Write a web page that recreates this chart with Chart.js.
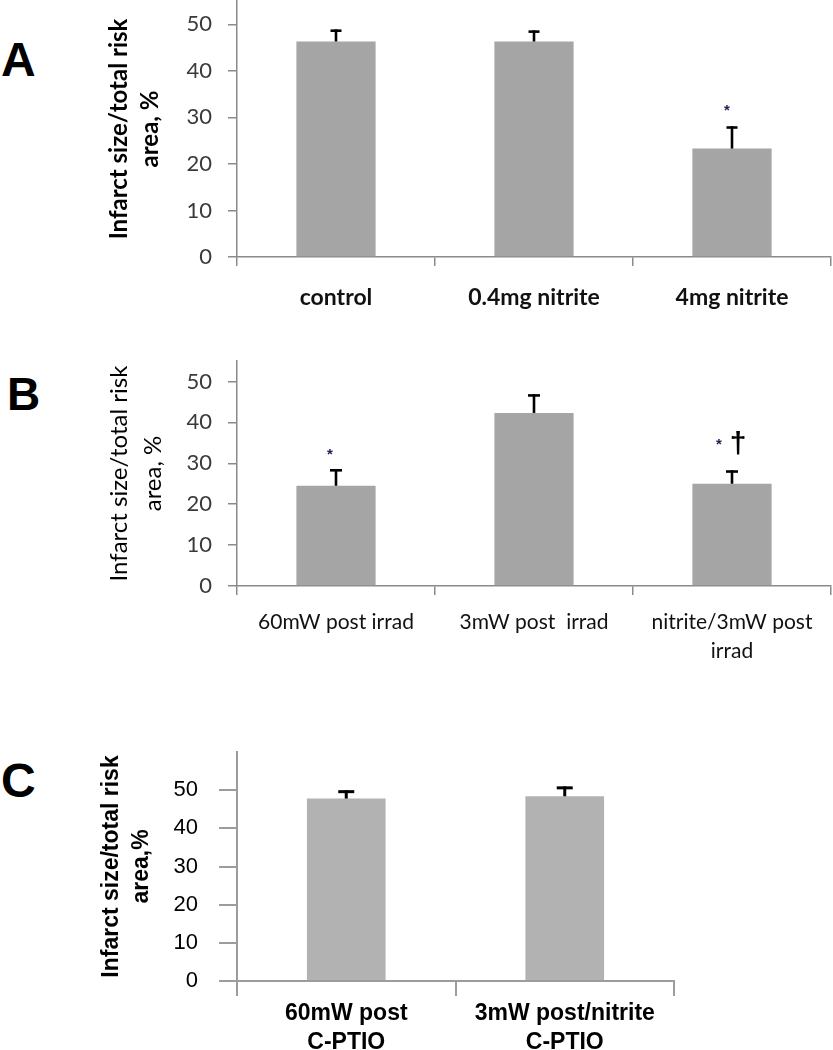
<!DOCTYPE html>
<html>
<head>
<meta charset="utf-8">
<script src="https://cdn.jsdelivr.net/npm/chart.js@4"></script>
<style>
  html, body { margin:0; padding:0; background:#fff; }
  body { width:833px; height:1050px; position:relative; overflow:hidden; }
  canvas { position:absolute; left:0; }
  .lbl { position:absolute; font-family:"Liberation Sans", Arial, sans-serif; font-weight:bold; color:#000; }
</style>
</head>
<body>
<div class="lbl" style="left:1px; top:36px; font-size:48px; line-height:48px;">A</div>
<div class="lbl" style="left:7px; top:371px; font-size:46px; line-height:46px;">B</div>
<div class="lbl" style="left:1px; top:757px; font-size:48px; line-height:48px;">C</div>
<canvas id="cA" width="833" height="320" style="top:0px"></canvas>
<canvas id="cB" width="833" height="340" style="top:330px"></canvas>
<canvas id="cC" width="833" height="360" style="top:690px"></canvas>
<script>
// ---- data ----
const yTickValues = [0, 10, 20, 30, 40, 50];
const yTitle = ['Infarct size/total risk', 'area, %'];
const yTitleC = ['Infarct size/total risk', 'area,%'];

const catA = ['control', '0.4mg nitrite', '4mg nitrite'];
const valA = [46.3, 46.3, 23.3];
const errA = [2.6, 2.4, 4.8];

const catB = ['60mW post irrad', '3mW post  irrad', ['nitrite/3mW post', 'irrad']];
const valB = [24.5, 42.3, 25.0];
const errB = [4.1, 4.6, 3.3];

const catC = [['60mW post', 'C-PTIO'], ['3mW post/nitrite', 'C-PTIO']];
const valC = [47.8, 48.4];
const errC = [2.2, 2.6];

// ---- plugins ----
const errorBars = {
  id: 'errorBars',
  afterDatasetsDraw(chart, args, opts) {
    const ctx = chart.ctx;
    const meta = chart.getDatasetMeta(0);
    const ys = chart.scales.y;
    const ds = chart.data.datasets[0];
    ctx.save();
    ctx.strokeStyle = opts.color;
    ctx.lineWidth = opts.width;
    meta.data.forEach((bar, i) => {
      const v = ds.data[i], e = ds.errors[i];
      const yTop = ys.getPixelForValue(v + e);
      const yBar = ys.getPixelForValue(v);
      ctx.beginPath();
      ctx.moveTo(bar.x, yBar);
      ctx.lineTo(bar.x, yTop);
      ctx.stroke();
      ctx.beginPath();
      ctx.moveTo(bar.x - opts.cap / 2, yTop + opts.width / 2);
      ctx.lineTo(bar.x + opts.cap / 2, yTop + opts.width / 2);
      ctx.stroke();
    });
    (opts.marks || []).forEach(m => {
      const bar = meta.data[m.i];
      const yTop = ys.getPixelForValue(ds.data[m.i] + ds.errors[m.i]);
      ctx.font = m.font;
      ctx.fillStyle = m.color;
      ctx.textAlign = 'center';
      ctx.textBaseline = 'middle';
      ctx.fillText(m.text, bar.x + m.dx, yTop - m.dy);
    });
    ctx.restore();
  }
};

function makeChart(id, cfg) {
  return new Chart(document.getElementById(id), {
    type: 'bar',
    data: {
      labels: cfg.labels,
      datasets: [{
        data: cfg.values,
        errors: cfg.errors,
        backgroundColor: cfg.barColor,
        borderWidth: 0,
        barPercentage: cfg.barPct,
        categoryPercentage: 1
      }]
    },
    plugins: [errorBars],
    options: {
      responsive: false,
      animation: false,
      devicePixelRatio: 1,
      layout: { padding: { top: cfg.padTop, right: cfg.padRight, left: 0, bottom: 0 } },
      plugins: {
        legend: { display: false },
        tooltip: { enabled: false },
        errorBars: { color: '#000', width: cfg.errWidth, cap: cfg.cap, marks: cfg.marks }
      },
      scales: {
        x: {
          type: 'category',
          offset: true,
          grid: { offset: true, drawOnChartArea: false, drawTicks: true, tickLength: cfg.xTickLen, color: cfg.lineColor, lineWidth: cfg.lineWidth },
          border: { display: true, color: cfg.lineColor, width: cfg.lineWidth },
          ticks: { font: cfg.xFont, color: cfg.xColor, padding: cfg.xPad, maxRotation: 0, autoSkip: false },
          afterFit(s) { s.height = cfg.xHeight; s.paddingLeft = 0; s.paddingRight = 0; }
        },
        y: {
          min: 0, max: cfg.yMax,
          grid: { drawOnChartArea: false, drawTicks: true, tickLength: cfg.yTickLen, color: cfg.lineColor, lineWidth: cfg.lineWidth },
          border: { display: true, color: cfg.lineColor, width: cfg.lineWidth },
          ticks: { font: cfg.yFont, color: cfg.yColor, padding: cfg.yPad },
          afterBuildTicks(s) { s.ticks = yTickValues.map(v => ({ value: v })); },
          title: { display: true, text: cfg.title, font: cfg.titleFont, color: '#000', padding: { top: cfg.titlePad, bottom: 0 } },
          afterFit(s) { s.width = 237; s.paddingTop = 0; s.paddingBottom = 0; }
        }
      }
    }
  });
}

makeChart('cA', {
  labels: catA, values: valA, errors: errA,
  barColor: '#a5a5a5', barPct: 0.4,
  padTop: 1, padRight: 2, xHeight: 63,
  xTickLen: 9, yTickLen: 9, lineColor: '#8a8a8a', lineWidth: 1.5,
  xFont: { family: 'Lato', size: 23, weight: 'bold', lineHeight: 1.2 }, xColor: '#111', xPad: 18,
  yFont: { family: 'Lato', size: 22, weight: 'normal' }, yColor: '#3a3a3a', yPad: 16,
  yMax: 55, title: yTitle,
  titleFont: { family: 'Lato', size: 24, weight: 'bold', lineHeight: '31px' }, titlePad: 104,
  errWidth: 2.6, cap: 11,
  marks: [{ i: 2, text: '*', dx: -5, dy: 15, font: 'bold 15px "Liberation Sans"', color: '#1c1c5a' }]
});

makeChart('cB', {
  labels: catB, values: valB, errors: errB,
  barColor: '#a5a5a5', barPct: 0.4,
  padTop: 31, padRight: 2, xHeight: 84,
  xTickLen: 9, yTickLen: 9, lineColor: '#8a8a8a', lineWidth: 1.5,
  xFont: { family: 'Lato', size: 21, weight: 'normal', lineHeight: '29px' }, xColor: '#111', xPad: 13,
  yFont: { family: 'Lato', size: 22, weight: 'normal' }, yColor: '#3a3a3a', yPad: 16,
  yMax: 55, title: yTitle,
  titleFont: { family: 'Lato', size: 24, weight: 'normal', lineHeight: '34px' }, titlePad: 102,
  errWidth: 2.6, cap: 12,
  marks: [
    { i: 0, text: '*', dx: -6, dy: 14, font: 'bold 15px "Liberation Sans"', color: '#1c1c5a' },
    { i: 2, text: '*', dx: -13, dy: 25, font: 'bold 15px "Liberation Sans"', color: '#1c1c5a' },
    { i: 2, text: '\u2020', dx: 6, dy: 25, font: 'bold 30px "Liberation Sans"', color: '#000' }
  ]
});

makeChart('cC', {
  labels: catC, values: valC, errors: errC,
  barColor: '#b2b2b2', barPct: 0.36,
  padTop: 62, padRight: 159, xHeight: 69,
  xTickLen: 15, yTickLen: 18, lineColor: '#9c9c9c', lineWidth: 2,
  xFont: { family: 'Liberation Sans', size: 23, weight: 'bold', lineHeight: '29px' }, xColor: '#000', xPad: 3,
  yFont: { family: 'Liberation Sans', size: 22, weight: 'normal' }, yColor: '#000', yPad: 21,
  yMax: 60, title: yTitleC,
  titleFont: { family: 'Liberation Sans', size: 23, weight: 'bold', lineHeight: '30px' }, titlePad: 97,
  errWidth: 3, cap: 16,
  marks: []
});
</script>
</body>
</html>
